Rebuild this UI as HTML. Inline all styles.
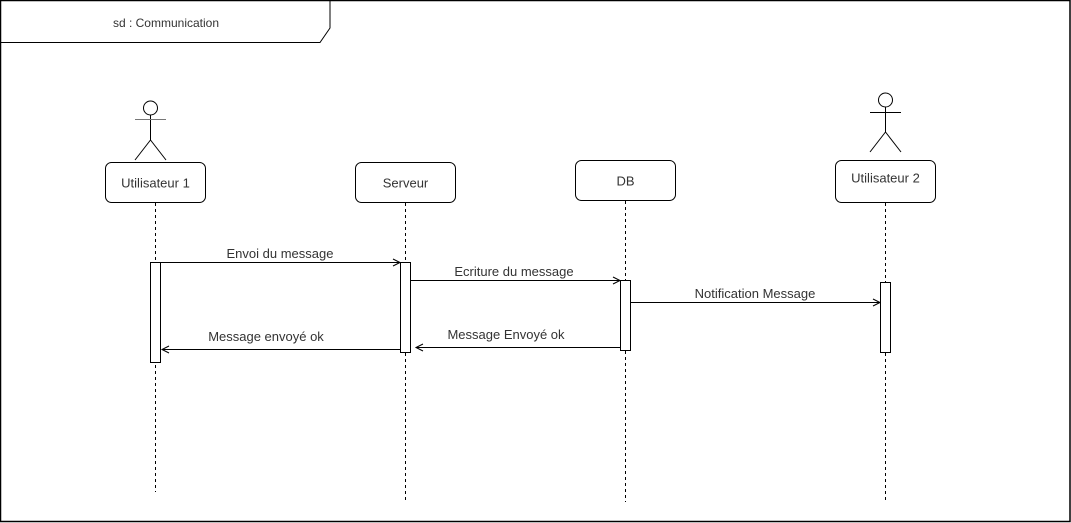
<!DOCTYPE html>
<html><head><meta charset="utf-8"><style>
html,body{margin:0;padding:0;background:#fff;}
svg{display:block;}
text{font-family:"Liberation Sans",sans-serif;fill:#333;}
</style></head><body>
<svg width="1071" height="523" viewBox="0 0 1071 523" xmlns="http://www.w3.org/2000/svg">
<rect x="0.5" y="0.5" width="1069.5" height="521" fill="#fff" stroke="#000" stroke-width="1.5"/>
<path d="M0.5 42.5 H320 L330 28 V0.5" fill="none" stroke="#000" stroke-width="1"/>
<text x="166" y="27" font-size="12" text-anchor="middle">sd : Communication</text>

<g stroke="#000" stroke-width="1" fill="none">
<circle cx="150.5" cy="108" r="7" fill="#fff"/>
<line x1="150.5" y1="115" x2="150.5" y2="140"/>
<line x1="135" y1="119.5" x2="166" y2="119.5" stroke="#777"/>
<line x1="150.5" y1="140" x2="135" y2="160"/>
<line x1="150.5" y1="140" x2="166" y2="160"/>
<circle cx="885.5" cy="100" r="7" fill="#fff"/>
<line x1="885.5" y1="107" x2="885.5" y2="132"/>
<line x1="870" y1="112.5" x2="901" y2="112.5"/>
<line x1="885.5" y1="132" x2="870" y2="152"/>
<line x1="885.5" y1="132" x2="901" y2="152"/>

<rect x="105.5" y="162.5" width="100" height="40" rx="6"/>
<rect x="355.5" y="162.5" width="100" height="40" rx="6"/>
<rect x="575.5" y="160.5" width="100" height="40" rx="6"/>
<rect x="835.5" y="160.5" width="100" height="42" rx="6"/>

<g stroke-dasharray="3 3">
<line x1="155.5" y1="203" x2="155.5" y2="492"/>
<line x1="405.5" y1="203" x2="405.5" y2="500"/>
<line x1="625.5" y1="201" x2="625.5" y2="502"/>
<line x1="885.5" y1="203" x2="885.5" y2="500"/>
</g>

<rect x="150.5" y="262.5" width="10" height="100" fill="#fff"/>
<rect x="400.5" y="262.5" width="10" height="90" fill="#fff"/>
<rect x="620.5" y="280.5" width="10" height="70" fill="#fff"/>
<rect x="880.5" y="282.5" width="10" height="70" fill="#fff"/>

<line x1="160" y1="262.5" x2="400" y2="262.5"/>
<path d="M393 259 L400 262.5 L393 266"/>
<line x1="410" y1="280.5" x2="620" y2="280.5"/>
<path d="M613 277 L620 280.5 L613 284"/>
<line x1="630" y1="302.5" x2="880" y2="302.5"/>
<path d="M873 299 L880 302.5 L873 306"/>
<line x1="620" y1="347.5" x2="416" y2="347.5"/>
<path d="M423 344 L416 347.5 L423 351"/>
<line x1="400" y1="349.5" x2="162" y2="349.5"/>
<path d="M169 346 L162 349.5 L169 353"/>
</g>

<g font-size="13" text-anchor="middle">
<text x="155.5" y="187.5">Utilisateur 1</text>
<text x="405.5" y="187.5">Serveur</text>
<text x="625.5" y="185.5">DB</text>
<text x="885.5" y="182.5">Utilisateur 2</text>
<text x="280" y="258">Envoi du message</text>
<text x="514" y="276">Ecriture du message</text>
<text x="755" y="298">Notification Message</text>
<text x="506" y="339">Message Envoyé ok</text>
<text x="266" y="341">Message envoyé ok</text>
</g>
</svg>
</body></html>
